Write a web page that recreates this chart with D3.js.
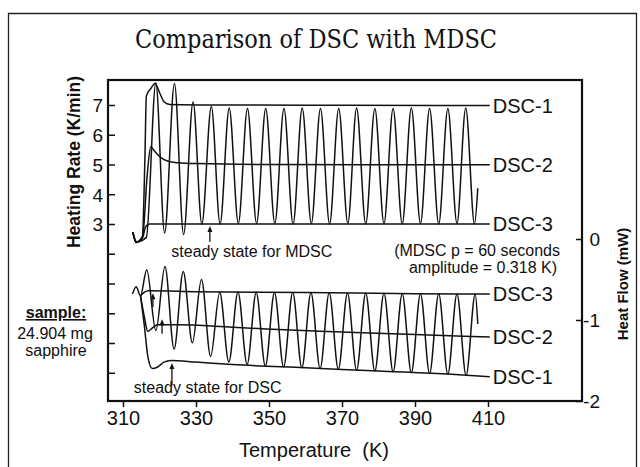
<!DOCTYPE html>
<html>
<head>
<meta charset="utf-8">
<title>Comparison of DSC with MDSC</title>
<style>
  body { margin: 0; background: #fff; }
  text { font-family: "Liberation Sans", Arial, sans-serif; fill: #111; }
  .curve { fill: none; stroke: #111; stroke-width: 1.5; stroke-linejoin: round; }
  .frame { fill: none; stroke: #111; stroke-width: 2.2; }
  .border { fill: none; stroke: #222; stroke-width: 1.3; }
  .axis line { stroke: #111; stroke-width: 1.5; }
  .axis text { font-size: 19px; fill: #111; }
  .xaxis text { font-size: 20px; }
  .series-label { font-size: 20px; }
  .note { font-size: 16px; }
  .title { font-family: "DejaVu Serif Condensed", "DejaVu Serif", serif; font-size: 26px; }
</style>
</head>
<body>
<div id="chart"></div>
<script src="https://d3js.org/d3.v7.min.js"></script>
<script>
// ---- data ----
var tempTicks = [310, 330, 350, 370, 390, 410];
var rateTicks = [-2, -1, 0, 1, 2, 3, 4, 5, 6, 7];
var rateLabelled = [3, 4, 5, 6, 7];
var flowTicks = [0, -1, -2];

// heating rate (K/min), conventional DSC runs
var rateDSC1 = [[312.7, 2.72], [313.6, 2.38], [315.3, 2.55], [316.0, 5.2], [316.4, 7.3], [317.6, 7.55], [318.8, 7.72],
  [320.0, 7.42], [321.3, 7.1], [322.8, 7.02], [340, 7.0], [370, 6.99], [410.5, 6.98]];
var rateDSC2 = [[312.7, 2.72], [313.6, 2.38], [315.4, 2.6], [316.6, 4.6], [317.6, 5.6], [318.6, 5.45], [320.2, 5.25],
  [322.2, 5.12], [325, 5.06], [330, 5.03], [350, 5.0], [410.5, 4.99]];
var rateDSC3 = [[312.7, 2.72], [313.6, 2.38], [315.4, 2.55], [316.2, 2.9], [317.2, 3.0], [330, 3.0], [410.5, 3.0]];

// heating rate, MDSC run (turning points of the modulation)
var mdscRateT = [312.7, 313.8, 316.4,
  319.0, 321.4, 324.1, 326.6, 329.2, 331.6, 334.2, 336.6, 339.1, 341.6, 344.1, 346.6, 349.1, 351.6,
  354.1, 356.6, 359.1, 361.6, 364.1, 366.6, 369.1, 371.6, 374.0, 376.5, 379.0, 381.5, 384.0, 386.5,
  389.0, 391.5, 394.0, 396.5, 399.0, 401.5, 403.9, 406.3, 407.2];
var mdscRate = [2.72, 2.4, 2.55,
  7.75, 2.7, 7.72, 2.65, 7.1, 3.0, 6.95, 3.0, 6.9, 3.02, 6.88, 3.02, 6.88, 3.02,
  6.88, 3.0, 6.9, 3.02, 6.88, 3.0, 6.88, 3.02, 6.9, 3.0, 6.88, 3.02, 6.88, 3.0,
  6.9, 3.02, 6.88, 3.0, 6.88, 3.02, 6.9, 3.0, 4.2];

// heat flow (mW), conventional DSC runs
var flowDSC1 = [[314.8, -0.70], [315.8, -1.05], [316.8, -1.45], [318.0, -1.60], [319.5, -1.58], [321.2, -1.52],
  [323.2, -1.50], [330, -1.52], [340, -1.55], [360, -1.59], [380, -1.63], [400, -1.67], [410.5, -1.70]];
var flowDSC2 = [[314.8, -0.70], [315.8, -0.95], [316.8, -1.14], [318.0, -1.10], [319.5, -1.06], [325, -1.06],
  [340, -1.09], [364, -1.14], [390, -1.18], [410.5, -1.21]];
var flowDSC3 = [[314.8, -0.70], [315.8, -0.66], [317, -0.64], [330, -0.65], [360, -0.66], [390, -0.675], [410.5, -0.68]];

// heat flow, MDSC run (turning points)
var mdscFlowT = [312.6, 313.6, 314.8,
  316.5, 319.0, 321.5, 324.0, 326.5, 329.0, 331.5, 334.0, 336.5, 339.0, 341.5, 344.0, 346.5, 349.0,
  351.5, 354.0, 356.5, 359.0, 361.5, 364.0, 366.5, 369.0, 371.5, 374.0, 376.5, 379.0, 381.5, 384.0,
  386.5, 389.0, 391.5, 394.0, 396.5, 399.0, 401.5, 404.0, 406.5, 407.2];
var mdscFlow = [-0.68, -0.59, -0.70,
  -0.38, -1.13, -0.34, -1.36, -0.40, -1.28, -0.50, -1.45, -0.66, -1.52, -0.655, -1.55, -0.66, -1.57,
  -0.66, -1.58, -0.66, -1.59, -0.665, -1.60, -0.665, -1.61, -0.67, -1.62, -0.67, -1.63, -0.67, -1.64,
  -0.675, -1.65, -0.675, -1.66, -0.675, -1.67, -0.68, -1.685, -0.68, -1.05];

// ---- layout ----
var width = 640, height = 467;
var plot = { left: 108, right: 582, top: 80, bottom: 401 };

var svg = d3.select('#chart')
  .append('svg')
  .attr('width', width)
  .attr('height', height);

svg.append('rect').attr('width', width).attr('height', height).attr('fill', '#fff');

var x = d3.scaleLinear().domain([310, 410]).range([123, 488]),
    yRate = d3.scaleLinear().domain([3, 7]).range([224, 105]),
    yFlow = d3.scaleLinear().domain([-2, 0]).range([plot.bottom, 239]);

// outer box of the figure
svg.append('path').attr('class', 'border')
  .attr('d', 'M8.5,' + (height + 2) + 'V13.5H636.5V' + (height + 2));

svg.append('text').attr('class', 'title')
  .attr('x', 316).attr('y', 48)
  .attr('text-anchor', 'middle')
  .attr('textLength', 362).attr('lengthAdjust', 'spacingAndGlyphs')
  .text('Comparison of DSC with MDSC');

// axes
var gl = svg.append('g').attr('class', 'axis')
  .attr('transform', 'translate(' + plot.left + ',0)')
  .call(d3.axisLeft(yRate).tickValues(rateTicks).tickSize(-7).tickSizeOuter(0).tickPadding(5)
    .tickFormat(function(d) { return rateLabelled.indexOf(d) >= 0 ? d : ''; }));
gl.select('.domain').remove();
gl.selectAll('text').attr('dy', '0.36em');

var gr = svg.append('g').attr('class', 'axis')
  .attr('transform', 'translate(' + plot.right + ',0)')
  .call(d3.axisRight(yFlow).tickValues(flowTicks).tickSize(-6).tickSizeOuter(0)
    .tickFormat(function(d) { return String(d); }));
gr.select('.domain').remove();
gr.selectAll('text').attr('text-anchor', 'end').attr('x', 18).attr('dy', '0.36em');

var gb = svg.append('g').attr('class', 'axis xaxis')
  .attr('transform', 'translate(0,' + plot.bottom + ')')
  .call(d3.axisBottom(x).tickValues(tempTicks).tickSize(6).tickSizeOuter(0).tickPadding(4)
    .tickFormat(function(d) { return String(d); }));
gb.select('.domain').remove();

svg.append('rect').attr('class', 'frame')
  .attr('x', plot.left).attr('y', plot.top)
  .attr('width', plot.right - plot.left).attr('height', plot.bottom - plot.top);

// curves
var rateLine = d3.line().x(function(d) { return x(d[0]); }).y(function(d) { return yRate(d[1]); })
  .curve(d3.curveMonotoneX);
var flowLine = d3.line().x(function(d) { return x(d[0]); }).y(function(d) { return yFlow(d[1]); })
  .curve(d3.curveMonotoneX);

var mdscRatePts = mdscRateT.map(function(t, i) { return [t, mdscRate[i]]; });
var mdscFlowPts = mdscFlowT.map(function(t, i) { return [t, mdscFlow[i]]; });

[rateDSC1, rateDSC2, rateDSC3, mdscRatePts].forEach(function(s) {
  svg.append('path').attr('class', 'curve').attr('d', rateLine(s));
});
[flowDSC1, flowDSC2, flowDSC3, mdscFlowPts].forEach(function(s) {
  svg.append('path').attr('class', 'curve').attr('d', flowLine(s));
});

// series labels at the line ends
function endLabel(series, yScale, name) {
  var last = series[series.length - 1];
  svg.append('text').attr('class', 'series-label')
    .attr('x', x(last[0]) + 3).attr('y', yScale(last[1]))
    .attr('dy', '0.36em')
    .text(name);
}
endLabel(rateDSC1, yRate, 'DSC-1');
endLabel(rateDSC2, yRate, 'DSC-2');
endLabel(rateDSC3, yRate, 'DSC-3');
endLabel(flowDSC3, yFlow, 'DSC-3');
endLabel(flowDSC2, yFlow, 'DSC-2');
endLabel(flowDSC1, yFlow, 'DSC-1');

// arrows marking steady state
function arrow(t, y0, y1) {
  var ax = x(t);
  svg.append('line').attr('x1', ax).attr('x2', ax).attr('y1', y0).attr('y2', y1 + 3)
    .attr('stroke', '#111').attr('stroke-width', 1.3);
  svg.append('path').attr('d', 'M' + ax + ',' + y1 + 'l-2.5,6h5z').attr('fill', '#111');
}
arrow(333.8, yRate(2.4), yRate(2.93));
arrow(318.2, yFlow(-0.84), yFlow(-0.67));
arrow(320.7, yFlow(-1.17), yFlow(-0.99));
arrow(323.4, yFlow(-1.81), yFlow(-1.53));

svg.append('text').attr('class', 'note').attr('x', x(345.3)).attr('y', 257)
  .attr('text-anchor', 'middle').text('steady state for MDSC');
svg.append('text').attr('class', 'note').attr('x', x(333.2)).attr('y', 393)
  .attr('text-anchor', 'middle').text('steady state for DSC');
svg.append('text').attr('class', 'note').attr('x', 560).attr('y', 256)
  .attr('text-anchor', 'end').text('(MDSC p = 60 seconds');
svg.append('text').attr('class', 'note').attr('x', 557).attr('y', 273)
  .attr('text-anchor', 'end').text('amplitude = 0.318 K)');

// sample note
svg.append('text').attr('class', 'note').attr('x', 56).attr('y', 318)
  .attr('text-anchor', 'middle').attr('font-weight', 'bold')
  .attr('text-decoration', 'underline').text('sample:');
svg.append('text').attr('class', 'note').attr('x', 55).attr('y', 339)
  .attr('text-anchor', 'middle').text('24.904 mg');
svg.append('text').attr('class', 'note').attr('x', 56).attr('y', 356)
  .attr('text-anchor', 'middle').text('sapphire');

// axis titles
svg.append('text').attr('transform', 'translate(80,162) rotate(-90)')
  .attr('text-anchor', 'middle').attr('font-weight', 'bold').attr('font-size', 17.5)
  .text('Heating Rate (K/min)');
svg.append('text').attr('transform', 'translate(628,284) rotate(-90)')
  .attr('text-anchor', 'middle').attr('font-weight', 'bold').attr('font-size', 15)
  .text('Heat Flow (mW)');
svg.append('text').attr('x', 314).attr('y', 457)
  .attr('text-anchor', 'middle').attr('font-size', 20)
  .text('Temperature \u00a0(K)');
</script>
</body>
</html>
